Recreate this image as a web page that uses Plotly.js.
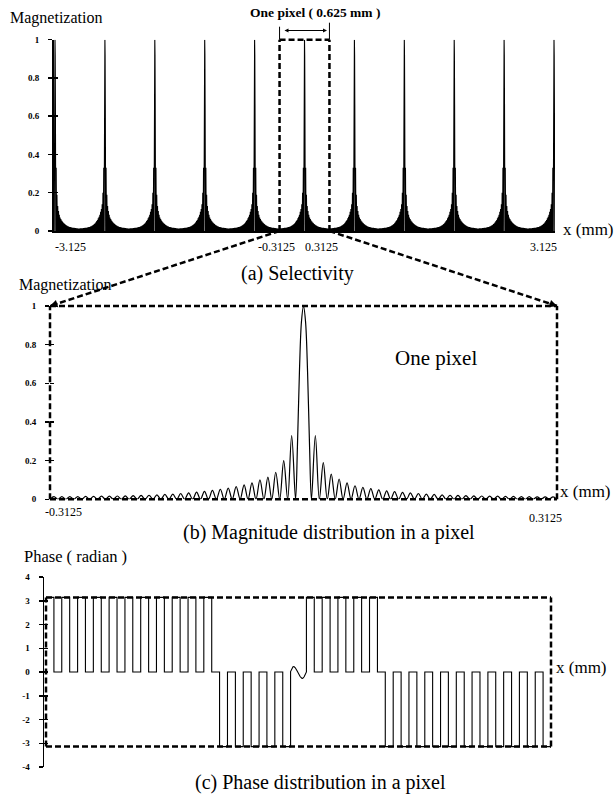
<!DOCTYPE html>
<html><head><meta charset="utf-8">
<script src="https://cdn.plot.ly/plotly-3.0.1.min.js"></script>
<style>html,body{margin:0;padding:0;background:#fff}#chart{width:615px;height:797px}</style>
</head><body><div id="chart"></div>
<script>
// ---------- data ----------
// (a) centres of the repeated pixel responses (mm)
const pixelCenters = [-3.125, -2.5, -1.875, -1.25, -0.625, 0, 0.625, 1.25, 1.875, 2.5, 3.125];

// (b) magnitude inside one pixel: zeros and lobe tops (mm, magnetization)
const magX = [
 -0.3125,-0.3076,-0.3027,-0.2979,-0.2930,-0.2881,-0.2832,-0.2783,-0.2734,-0.2686,-0.2637,-0.2588,-0.2539,-0.2490,-0.2441,-0.2393,
 -0.2344,-0.2295,-0.2246,-0.2197,-0.2148,-0.2100,-0.2051,-0.2002,-0.1953,-0.1904,-0.1855,-0.1807,-0.1758,-0.1709,-0.1660,-0.1611,
 -0.1563,-0.1514,-0.1465,-0.1416,-0.1367,-0.1318,-0.1270,-0.1221,-0.1172,-0.1123,-0.1074,-0.1025,-0.0977,-0.0928,-0.0879,-0.0830,
 -0.0781,-0.0732,-0.0684,-0.0635,-0.0586,-0.0537,-0.0488,-0.0439,-0.0391,-0.0342,-0.0293,-0.0244,-0.0195,-0.0146,-0.0098,
 -0.0075,-0.0050,-0.0025,0,0.0025,0.0050,0.0075,
 0.0098,0.0146,0.0195,0.0244,0.0293,0.0342,0.0391,0.0439,0.0488,0.0537,0.0586,0.0635,0.0684,0.0732,0.0781,0.0830,
 0.0879,0.0928,0.0977,0.1025,0.1074,0.1123,0.1172,0.1221,0.1270,0.1318,0.1367,0.1416,0.1465,0.1514,0.1563,0.1611,
 0.1660,0.1709,0.1758,0.1807,0.1855,0.1904,0.1953,0.2002,0.2051,0.2100,0.2148,0.2197,0.2246,0.2295,0.2344,0.2393,
 0.2441,0.2490,0.2539,0.2588,0.2637,0.2686,0.2734,0.2783,0.2832,0.2881,0.2930,0.2979,0.3027,0.3076,0.3125
];
const magY = [
 0,0.014,0,0.014,0,0.014,0,0.014,0,0.015,0,0.015,0,0.016,0,0.016,
 0,0.017,0,0.018,0,0.019,0,0.02,0,0.021,0,0.023,0,0.025,0,0.027,
 0,0.03,0,0.033,0,0.037,0,0.041,0,0.046,0,0.052,0,0.058,0,0.066,
 0,0.075,0,0.085,0,0.10,0,0.115,0,0.14,0,0.20,0,0.33,0,
 0.27,0.66,0.92,1,0.92,0.66,0.27,
 0,0.33,0,0.19,0,0.13,0,0.105,0,0.085,0,0.07,0,0.062,0,0.055,
 0,0.049,0,0.044,0,0.04,0,0.036,0,0.033,0,0.03,0,0.027,0,0.025,
 0,0.023,0,0.021,0,0.02,0,0.019,0,0.018,0,0.017,0,0.016,0,0.016,
 0,0.015,0,0.015,0,0.014,0,0.014,0,0.013,0,0.013,0,0.013,0
];

// (c) phase: lobe edges and the constant phase of each side lobe (radian)
const phaseLeftEdges = [-0.3125,-0.3027,-0.2930,-0.2832,-0.2734,-0.2637,-0.2539,-0.2441,-0.2344,-0.2246,-0.2148,-0.2051,
 -0.1953,-0.1855,-0.1758,-0.1660,-0.1563,-0.1465,-0.1367,-0.1270,-0.1172,-0.1074,-0.0977,-0.0879,-0.0781,-0.0684,-0.0586,
 -0.0488,-0.0391,-0.0293,-0.0195,-0.0098];
const phaseLeftLevels = [3.1416,0,3.1416,0,3.1416,0,3.1416,0,3.1416,0,3.1416,0,3.1416,0,3.1416,0,3.1416,0,3.1416,0,3.1416,
 0,-3.1416,0,-3.1416,0,-3.1416,0,-3.1416,0,-3.1416];
const phaseMainX = [-0.0098,-0.0085,-0.0068,-0.0056,-0.0040,-0.0020,0,0.0020,0.0040,0.0052,0.0070,0.0085,0.0098];
const phaseMainY = [0.02,0.14,0.22,0.23,0.18,0.06,-0.07,-0.19,-0.26,-0.27,-0.2,-0.08,0];
const phaseRightEdges = [0.0098,0.0195,0.0293,0.0391,0.0488,0.0586,0.0684,0.0781,0.0879,0.0977,0.1074,0.1172,0.1270,
 0.1367,0.1465,0.1563,0.1660,0.1758,0.1855,0.1953,0.2051,0.2148,0.2246,0.2344,0.2441,0.2539,0.2637,0.2734,0.2832,0.2930,
 0.3027,0.3125];
const phaseRightLevels = [3.1416,0,3.1416,0,3.1416,0,3.1416,0,3.1416,0,
 -3.1416,0,-3.1416,0,-3.1416,0,-3.1416,0,-3.1416,0,-3.1416,0,-3.1416,0,-3.1416,0,-3.1416,0,-3.1416,0,-3.1416];

// tick labels
const magTicks = [0,0.2,0.4,0.6,0.8,1];
const magTickText = ['0','0.2','0.4','0.6','0.8','1'];
const phaseTicks = [-4,-3,-2,-1,0,1,2,3,4];
const phaseTickText = ['-4','-3','-2','-1','0','1','2','3','4'];

// ---------- build traces ----------
const topX = [], topY = [];
pixelCenters.forEach(c => { magX.forEach((v,i) => { topX.push(c + v); topY.push(magY[i]); }); });

const phX = [], phY = [];
for (let i = 0; i < phaseLeftLevels.length; i++) {
  phX.push(phaseLeftEdges[i], phaseLeftEdges[i+1]); phY.push(phaseLeftLevels[i], phaseLeftLevels[i]);
}
phaseMainX.forEach((v,i) => { phX.push(v); phY.push(phaseMainY[i]); });
for (let i = 0; i < phaseRightLevels.length; i++) {
  phX.push(phaseRightEdges[i], phaseRightEdges[i+1]); phY.push(phaseRightLevels[i], phaseRightLevels[i]);
}

// ---------- layout ----------
const W = 615, H = 797;
const fx = p => p / W, fy = p => 1 - p / H;
const SERIF = 'Liberation Serif, Times New Roman, serif';
const DASH = '6px,3px';

const ax1x = {domain:[fx(53.5), fx(555)], range:[-3.1438, 3.1375]};
const ax1y = {domain:[fy(231), fy(39.7)], range:[0, 1]};
const ax2x = {domain:[fx(50), fx(557)], range:[-0.3125, 0.3125]};
const ax2y = {domain:[fy(499.3), fy(306)], range:[0, 1]};
const ax3x = {domain:[fx(44), fx(551)], range:[-0.31498, 0.3125]};
const ax3y = {domain:[fy(767), fy(577)], range:[-4, 4]};
const mp = (a, v) => a.domain[0] + (v - a.range[0]) / (a.range[1] - a.range[0]) * (a.domain[1] - a.domain[0]);

const tickFont = {family: SERIF, size: 9, color: '#000', weight: 'bold'};
function yMain(a, anchor, vals, txt, line) {
  return Object.assign({}, a, {anchor: anchor, showgrid:false, zeroline:false, showline: line, linecolor:'#000', linewidth:1.5,
    ticks:'outside', ticklen:4, tickwidth:1.5, tickcolor:'#000', tickmode:'array', tickvals: vals, ticktext: txt,
    tickfont: tickFont, ticklabelstandoff: 7, fixedrange:true});
}
function yInner(a, anchor, over, vals) {
  return Object.assign({}, a, {anchor: anchor, overlaying: over, side:'left', showgrid:false, zeroline:false, showline:false,
    ticks:'inside', ticklen:4, tickwidth:1.5, tickcolor:'#000', tickmode:'array', tickvals: vals, showticklabels:false, fixedrange:true});
}
function xPlain(a, anchor, line) {
  return Object.assign({}, a, {anchor: anchor, showgrid:false, zeroline:false, showline: line, linecolor:'#000', linewidth:1.5,
    ticks:'', showticklabels:false, fixedrange:true});
}

const shapes = [];
const dashed = (x0,y0,x1,y1,w) => shapes.push({type:'line', xref:'paper', yref:'paper', x0, y0, x1, y1,
  line:{color:'#000', width: w || 2.5, dash: DASH}});
const solid = (x0,y0,x1,y1,w) => shapes.push({type:'line', xref:'paper', yref:'paper', x0, y0, x1, y1,
  line:{color:'#000', width: w || 1}});

// top dashed pixel box
const tL = mp(ax1x,-0.3125), tR = mp(ax1x,0.3125), tB = mp(ax1y,0), tT = mp(ax1y,1);
dashed(tL, tB, tL, tT); dashed(tR, tB, tR, tT); dashed(tL, tT, tR, tT);
solid(tL, tT, tL, tT + 13/H); solid(tR, tT, tR, tT + 17/H);
// middle box
const mL = mp(ax2x,-0.3125), mR = mp(ax2x,0.3125), mB = mp(ax2y,0), mT = mp(ax2y,1);
dashed(mL, mB, mL, mT); dashed(mR, mB, mR, mT); dashed(mL, mT, mR, mT); dashed(mL, mB, mR, mB);
// zoom connectors
dashed(tL, tB, mL, mT); dashed(tR, tB, mR, mT);
// phase box
const pL = mp(ax3x,-0.3125), pR = mp(ax3x,0.3125), pB = mp(ax3y,-Math.PI), pT = mp(ax3y,Math.PI);
dashed(pL, pB, pL, pT); dashed(pR, pB, pR, pT); dashed(pL, pT, pR, pT); dashed(pL, pB, pR, pB);

const txt = (text, x, y, size, xanchor, extra) => Object.assign({text, x, y, xref:'paper', yref:'paper', xanchor: xanchor || 'center',
  yanchor:'middle', showarrow:false, font:{family: SERIF, size, color:'#000'}}, extra || {});

const annotations = [
  txt('Magnetization', fx(8), fy(18), 16, 'left'),
  txt('<b>One pixel ( 0.625 mm )</b>', fx(315), fy(13), 13.5),
  {x: fx(327), y: fy(30.5), xref:'paper', yref:'paper', ax:-44, ay:0, axref:'pixel', ayref:'pixel', text:'', showarrow:true,
   arrowhead:2, startarrowhead:2, arrowside:'end+start', arrowsize:0.8, arrowwidth:1, arrowcolor:'#000'},
  txt('x (mm)', fx(561), fy(229), 17, 'left'),
  txt('-3.125', mp(ax1x,-3.125), fy(247), 12, 'left', {xshift:-2}),
  txt('-0.3125', mp(ax1x,-0.3125), fy(247), 12, 'center', {xshift:-3}),
  txt('0.3125', mp(ax1x,0.3125), fy(247), 12, 'center', {xshift:-8}),
  txt('3.125', mp(ax1x,3.125), fy(247), 12, 'center', {xshift:-11}),
  txt('(a) Selectivity', fx(297), fy(273), 20),
  txt('Magnetization', fx(17), fy(285), 16, 'left'),
  txt('One pixel', fx(393), fy(358), 21, 'left'),
  txt('x (mm)', fx(558), fy(491), 17, 'left'),
  txt('-0.3125', mp(ax2x,-0.3125), fy(512), 12, 'center', {xshift:13}),
  txt('0.3125', mp(ax2x,0.3125), fy(518), 12, 'center', {xshift:-12}),
  txt('(b) Magnitude distribution in a pixel', fx(329), fy(532), 20),
  txt('Phase ( radian )', fx(22), fy(556), 16.5, 'left'),
  txt('x (mm)', fx(554), fy(667), 17, 'left'),
  txt('(c) Phase distribution in a pixel', fx(320), fy(782), 20),
  {x: mR, y: mT, xref:'paper', yref:'paper', ax:-9, ay:-3, text:'', showarrow:true, arrowhead:2, arrowsize:1, arrowwidth:1.5, arrowcolor:'#000'},
  {x: mL, y: mT, xref:'paper', yref:'paper', ax:9, ay:-3, text:'', showarrow:true, arrowhead:2, arrowsize:1, arrowwidth:1.5, arrowcolor:'#000'}
];

const traces = [
  {x: topX, y: topY, xaxis:'x', yaxis:'y', mode:'lines', line:{color:'#000', width:1.1}, hoverinfo:'skip'},
  {x: magX, y: magY, xaxis:'x2', yaxis:'y2', mode:'lines', line:{color:'#000', width:1.2, shape:'spline', smoothing:1}, hoverinfo:'skip'},
  {x: phX, y: phY, xaxis:'x3', yaxis:'y3', mode:'lines', line:{color:'#000', width:1.1}, hoverinfo:'skip'},
  {x:[null], y:[null], xaxis:'x', yaxis:'y4', mode:'lines', hoverinfo:'skip'},
  {x:[null], y:[null], xaxis:'x2', yaxis:'y5', mode:'lines', hoverinfo:'skip'},
  {x:[null], y:[null], xaxis:'x3', yaxis:'y6', mode:'lines', hoverinfo:'skip'}
];

const layout = {
  width: W, height: H, margin:{l:0, r:0, t:0, b:0}, paper_bgcolor:'#fff', plot_bgcolor:'rgba(0,0,0,0)', showlegend:false,
  font:{family: SERIF, color:'#000'},
  xaxis: xPlain(ax1x, 'y', true),
  yaxis: yMain(ax1y, 'x', magTicks, magTickText, true),
  yaxis4: yInner(ax1y, 'x', 'y', magTicks),
  xaxis2: xPlain(ax2x, 'y2', false),
  yaxis2: yMain(ax2y, 'x2', magTicks, magTickText, false),
  yaxis5: yInner(ax2y, 'x2', 'y2', magTicks),
  xaxis3: xPlain(ax3x, 'y3', false),
  yaxis3: yMain(ax3y, 'x3', phaseTicks, phaseTickText, true),
  yaxis6: yInner(ax3y, 'x3', 'y3', phaseTicks),
  shapes, annotations
};

Plotly.newPlot('chart', traces, layout, {staticPlot:true, displayModeBar:false});
</script></body></html>
